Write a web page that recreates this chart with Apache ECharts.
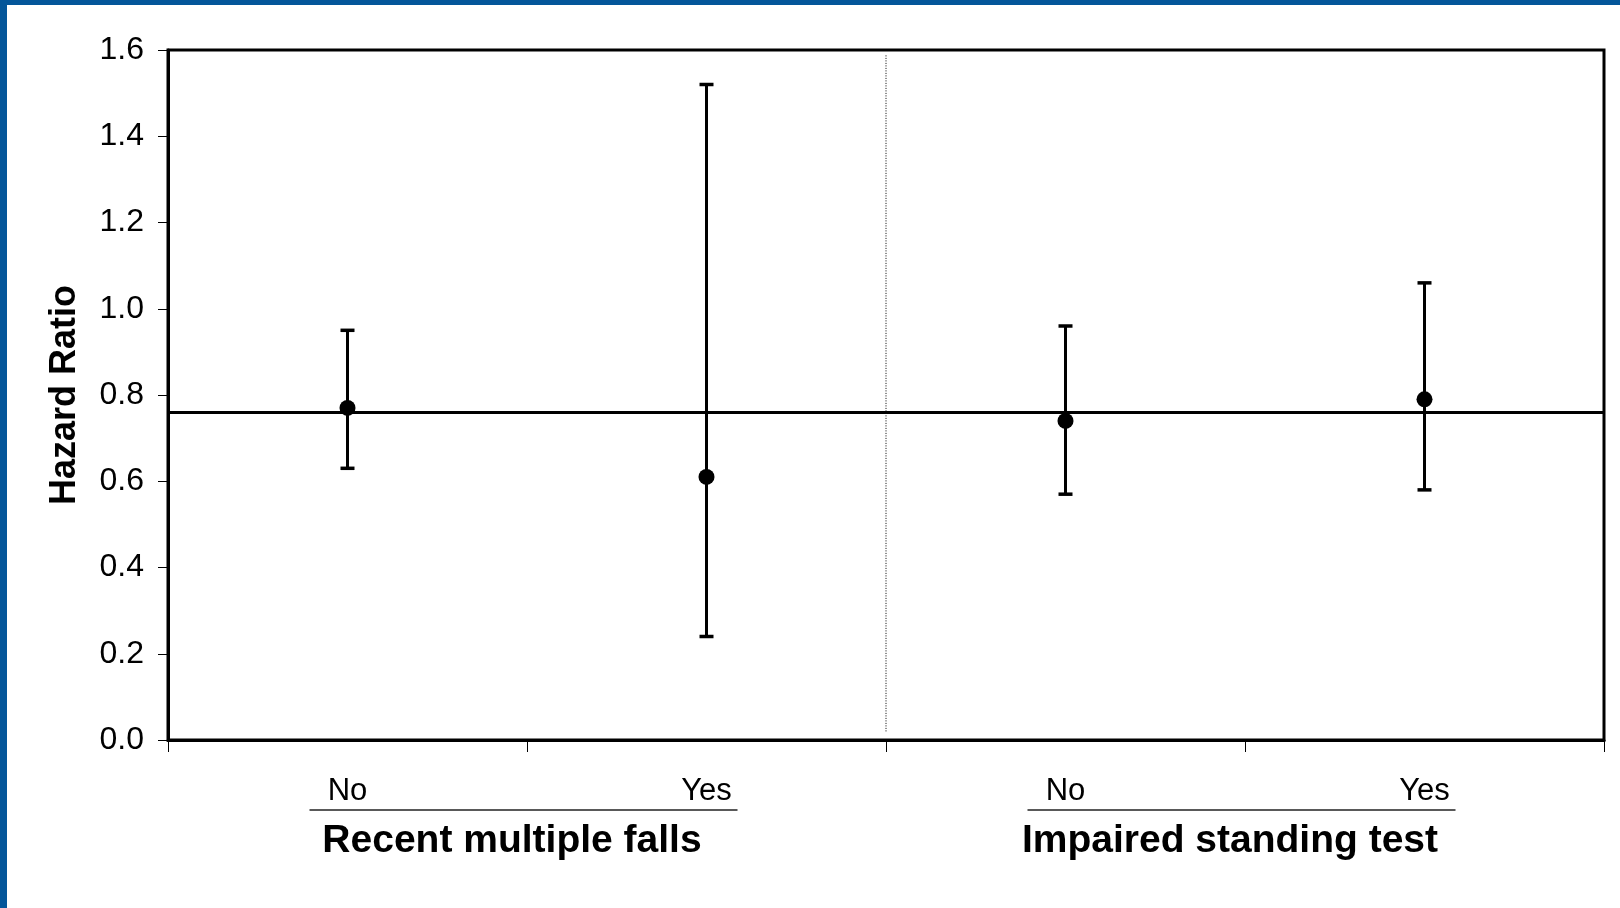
<!DOCTYPE html>
<html>
<head>
<meta charset="utf-8">
<script src="https://cdn.jsdelivr.net/npm/echarts@6/dist/echarts.min.js"></script>
<style>
  html, body { margin: 0; padding: 0; background: #ffffff; }
  #frame {
    position: absolute; left: 0; top: 0; width: 1620px; height: 908px;
    box-sizing: border-box; border-top: 5px solid #04569A; border-left: 7px solid #04569A;
  }
  #chart { position: absolute; left: 0; top: 0; width: 1620px; height: 908px; }
</style>
</head>
<body>
<div id="chart"></div>
<div id="frame"></div>
<script>
// Hazard ratios with 95% confidence limits, by subgroup
const categories = ['No', 'Yes', 'No', 'Yes'];
const hazardRatio = [0.77, 0.61, 0.74, 0.79];
const ciLower = [0.63, 0.24, 0.57, 0.58];
const ciUpper = [0.95, 1.52, 0.96, 1.06];
const overallHR = 0.764;
const groups = ['Recent multiple falls', 'Impaired standing test'];
const yMin = 0, yMax = 1.6, yStep = 0.2;
// divider between the two subgroup panels, on the 0..4 slot scale
const dividerSlot = [[2, 0.02], [2, 1.59]];

const FONT = "'Liberation Sans', Arial, sans-serif";
const chart = echarts.init(document.getElementById('chart'), null, { renderer: 'canvas' });

const option = {
  animation: false,
  backgroundColor: '#ffffff',
  grid: {
    left: 168, right: 16, top: 50, bottom: 168,
    show: true, borderColor: '#000', borderWidth: 3, backgroundColor: 'transparent'
  },
  xAxis: [
    {
      type: 'category', data: categories, boundaryGap: true, position: 'bottom',
      axisLine: { show: true, lineStyle: { color: '#000', width: 3 } },
      axisTick: { show: true, length: 12, alignWithLabel: false, lineStyle: { color: '#000', width: 1 } },
      axisLabel: { color: '#000', fontFamily: FONT, fontSize: 31, lineHeight: 31, margin: 36 },
      splitLine: { show: false }
    },
    {
      type: 'category', data: groups, boundaryGap: true, position: 'bottom',
      axisLine: { show: false }, axisTick: { show: false },
      axisLabel: {
        color: '#000', fontFamily: FONT, fontSize: 39, lineHeight: 39, fontWeight: 'bold',
        margin: 82, padding: [0, 30, 0, 0], interval: 0
      },
      splitLine: { show: false }
    },
    {
      type: 'value', min: 0, max: 4, show: false
    }
  ],
  yAxis: {
    type: 'value', min: yMin, max: yMax, interval: yStep,
    name: 'Hazard Ratio', nameLocation: 'middle', nameGap: 85,
    nameTextStyle: { color: '#000', fontFamily: FONT, fontSize: 36, fontWeight: 'bold' },
    axisLine: { show: true, lineStyle: { color: '#000', width: 3 } },
    axisTick: { show: true, length: 10, lineStyle: { color: '#000', width: 1 } },
    axisLabel: {
      color: '#000', fontFamily: FONT, fontSize: 32, margin: 24,
      formatter: v => v.toFixed(1)
    },
    splitLine: { show: false }
  },
  series: [
    {
      name: 'divider', type: 'line', xAxisIndex: 2, yAxisIndex: 0,
      data: dividerSlot, symbol: 'none', silent: true,
      lineStyle: { color: '#000', width: 1, type: [1, 1.5], opacity: 1 }, z: 1
    },
    {
      name: 'ci', type: 'custom', xAxisIndex: 0, yAxisIndex: 0,
      data: categories.map((c, i) => [i, ciLower[i], ciUpper[i]]),
      renderItem: function (params, api) {
        const lo = api.coord([api.value(0), api.value(1)]);
        const hi = api.coord([api.value(0), api.value(2)]);
        const cap = 7;
        const st = { stroke: '#000', lineWidth: 3 };
        const capSt = { stroke: '#000', lineWidth: 3.5 };
        return {
          type: 'group',
          children: [
            { type: 'line', shape: { x1: lo[0], y1: lo[1], x2: hi[0], y2: hi[1] }, style: st },
            { type: 'line', shape: { x1: hi[0] - cap, y1: hi[1], x2: hi[0] + cap, y2: hi[1] }, style: capSt },
            { type: 'line', shape: { x1: lo[0] - cap, y1: lo[1], x2: lo[0] + cap, y2: lo[1] }, style: capSt }
          ]
        };
      },
      z: 3
    },
    {
      name: 'HR', type: 'scatter', xAxisIndex: 0, yAxisIndex: 0,
      data: hazardRatio, symbol: 'circle', symbolSize: 16,
      itemStyle: { color: '#000', opacity: 1 }, z: 4,
      markLine: {
        silent: true, symbol: 'none', label: { show: false },
        lineStyle: { color: '#000', width: 3, type: 'solid', opacity: 1 },
        data: [{ yAxis: overallHR }]
      }
    }
  ]
};
chart.setOption(option);

// underline each subgroup's No/Yes pair, spanning its two category slots
const baseY = chart.convertToPixel({ yAxisIndex: 0 }, yMin);
const lines = [];
for (let g = 0; g < groups.length; g++) {
  const xa = chart.convertToPixel({ xAxisIndex: 0 }, 2 * g);
  const xb = chart.convertToPixel({ xAxisIndex: 0 }, 2 * g + 1);
  lines.push({
    type: 'line', silent: true,
    shape: { x1: xa - 38, y1: baseY + 70, x2: xb + 31, y2: baseY + 70 },
    style: { stroke: '#222', lineWidth: 1.5 }
  });
}
chart.setOption({ graphic: lines });
</script>
</body>
</html>
